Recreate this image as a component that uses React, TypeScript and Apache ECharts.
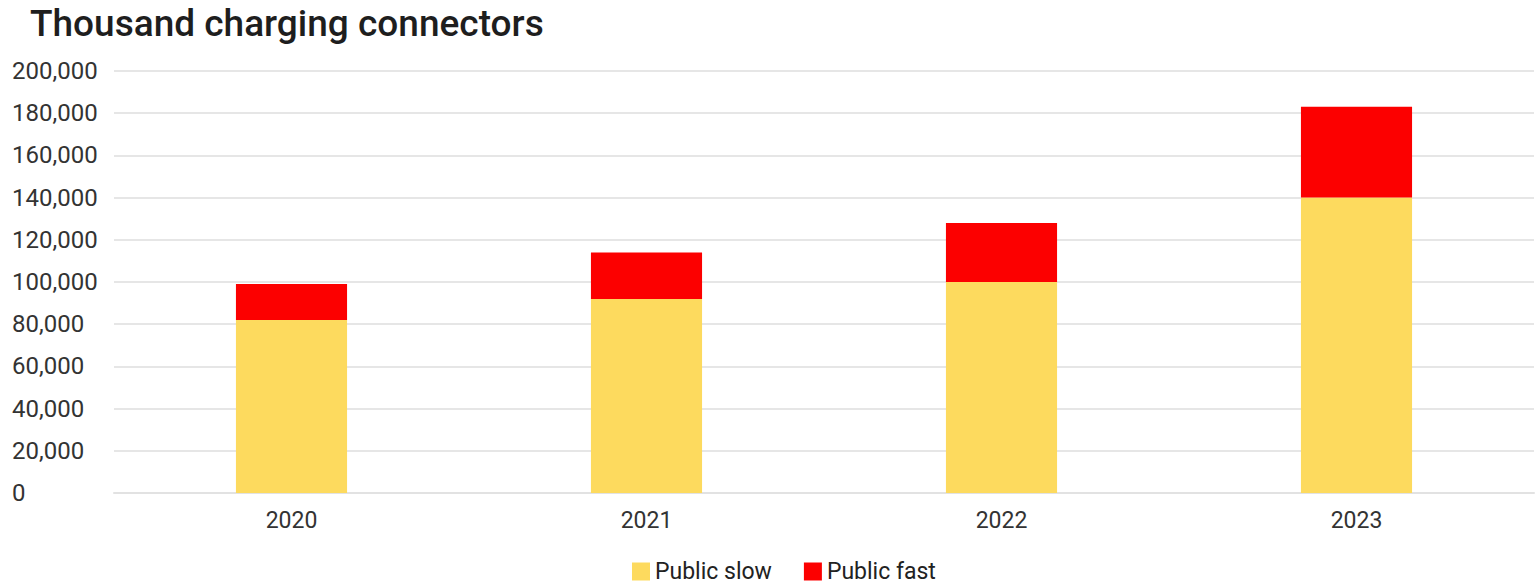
import React, { useEffect, useRef } from "react";
import * as echarts from "echarts";

const categories = ["2020", "2021", "2022", "2023"];
const publicSlow = [82000, 92000, 100000, 140000];
const publicFast = [17000, 22000, 28000, 43000];
const seriesNames = ["Public slow", "Public fast"];
const titleText = "Thousand charging connectors";

export default function App() {
  const ref = useRef<HTMLDivElement>(null);
  useEffect(() => {
    document.body.style.margin = "0";
    const chart = echarts.init(ref.current!, null, { renderer: "svg" });
    const font = "Roboto, 'Noto Sans', sans-serif";
    chart.setOption({
      animation: false,
      backgroundColor: "#ffffff",
      title: {
        text: titleText,
        left: 30,
        top: 5,
        padding: 0,
        textStyle: { fontFamily: font, fontSize: 37, fontWeight: 500, color: "#1e1e1e" },
      },
      legend: {
        top: 560,
        left: 632,
        itemWidth: 18,
        itemHeight: 18,
        itemGap: 32,
        padding: 0,
        icon: "rect",
        textStyle: { fontFamily: font, fontSize: 23, lineHeight: 18, color: "#222222" },
        data: seriesNames,
      },
      grid: { left: 114, right: 3, top: 71, bottom: 94, containLabel: false },
      xAxis: {
        type: "category",
        data: categories,
        axisTick: { show: false },
        axisLine: { lineStyle: { color: "#e2e2e2", width: 2 } },
        axisLabel: { fontFamily: font, fontSize: 23, color: "#333333", margin: 16 },
      },
      yAxis: {
        type: "value",
        min: 0,
        max: 200000,
        interval: 20000,
        axisLine: { show: false },
        axisTick: { show: false },
        splitLine: { lineStyle: { color: "#e6e6e6", width: 2 } },
        axisLabel: {
          fontFamily: font,
          fontSize: 24,
          color: "#333333",
          align: "left",
          margin: 102,
          formatter: (v: number) => v.toLocaleString("en-US"),
        },
      },
      series: [
        {
          name: seriesNames[0],
          type: "bar",
          stack: "total",
          data: publicSlow,
          barWidth: "31.3%",
          itemStyle: { color: "#fdda5e" },
        },
        {
          name: seriesNames[1],
          type: "bar",
          stack: "total",
          data: publicFast,
          barWidth: "31.3%",
          itemStyle: { color: "#fc0000" },
        },
      ],
    });
    return () => chart.dispose();
  }, []);
  return <div ref={ref} style={{ width: 1537, height: 587 }} />;
}
